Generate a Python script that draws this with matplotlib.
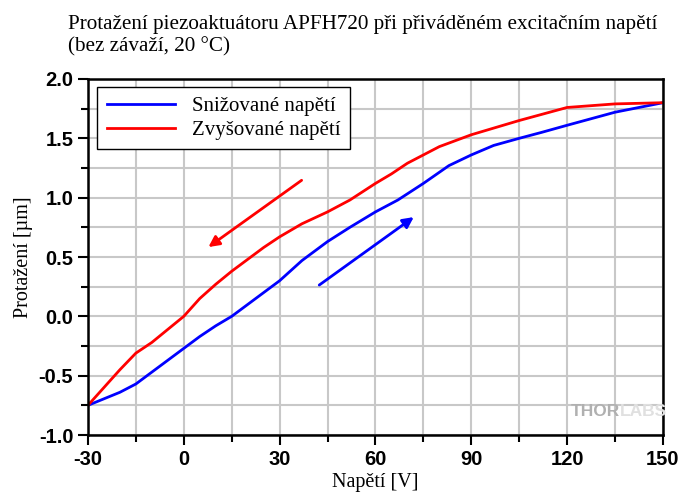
import matplotlib
matplotlib.use("Agg")
import matplotlib.pyplot as plt
from matplotlib.ticker import MultipleLocator

plt.rcParams["axes.unicode_minus"] = False

# snizovane napeti (blue)
v_down = [-30, -20, -15, -10, -5, 0, 5, 10, 15, 20, 25, 30, 37, 45, 52, 60, 67, 75, 83, 90, 97, 105, 112, 120, 135, 150]
s_down = [-0.75, -0.64, -0.57, -0.47, -0.37, -0.27, -0.17, -0.08, 0.0, 0.1, 0.2, 0.3, 0.47, 0.63, 0.75, 0.88, 0.98, 1.12, 1.27, 1.36, 1.44, 1.5, 1.55, 1.61, 1.72, 1.8]

# zvysovane napeti (red)
v_up = [-30, -25, -20, -15, -10, -5, 0, 5, 10, 15, 20, 25, 30, 37, 45, 52, 60, 65, 70, 75, 80, 90, 105, 120, 135, 150]
s_up = [-0.75, -0.6, -0.45, -0.31, -0.22, -0.11, 0.0, 0.15, 0.27, 0.38, 0.48, 0.58, 0.67, 0.78, 0.88, 0.98, 1.12, 1.2, 1.29, 1.36, 1.43, 1.53, 1.65, 1.76, 1.79, 1.8]

# arrows (tail -> head)
arrow_red = ((37.6, 1.16), (7.0, 0.57))
arrow_blue = ((41.7, 0.25), (72.7, 0.85))

serif = ["Liberation Serif", "DejaVu Serif"]
sans = ["Liberation Sans", "DejaVu Sans"]

fig = plt.figure(figsize=(6.87, 4.93), dpi=100)
ax = fig.add_axes([0.128, 0.1176, 0.837, 0.7222])

ax.plot(v_down, s_down, color="#0000ff", lw=2, label="Snižované napětí")
ax.plot(v_up, s_up, color="#ff0000", lw=2, label="Zvyšované napětí")

for (tail, head), c in [(arrow_red, "#ff0000"), (arrow_blue, "#0000ff")]:
    ax.annotate("", xy=head, xytext=tail,
                arrowprops=dict(arrowstyle="-|>", color=c, lw=2, mutation_scale=16))

ax.set_xlim(-30, 150)
ax.set_ylim(-1.0, 2.0)
ax.xaxis.set_major_locator(MultipleLocator(30))
ax.xaxis.set_minor_locator(MultipleLocator(15))
ax.yaxis.set_major_locator(MultipleLocator(0.5))
ax.yaxis.set_minor_locator(MultipleLocator(0.25))
ax.yaxis.set_major_formatter(plt.FormatStrFormatter("%.1f"))
ax.grid(True, which="both", color="#c8c8c8", lw=1.5)
ax.set_axisbelow(True)

for s in ax.spines.values():
    s.set_linewidth(1.8)
ax.tick_params(which="major", direction="out", length=7, width=1.5)
ax.tick_params(which="minor", direction="out", length=5, width=1.5)
for lab in ax.get_xticklabels() + ax.get_yticklabels():
    lab.set_family(sans)
    lab.set_fontweight("bold")
    lab.set_fontsize(14.5)

ax.set_xlabel("Napětí [V]", family=serif, fontsize=14.5, labelpad=3)
ax.set_ylabel("Protažení [µm]", family=serif, fontsize=14.5, labelpad=4)

leg = ax.legend(loc="upper left", bbox_to_anchor=(0.016, 0.977), borderaxespad=0,
                prop={"family": serif, "size": 15}, fancybox=False, edgecolor="black",
                framealpha=1, handlelength=3.3, borderpad=0.45, labelspacing=0.2,
                handletextpad=0.8)
leg.get_frame().set_linewidth(1)

fig.text(0.099, 0.97, "Protažení piezoaktuátoru APFH720 při přiváděném excitačním napětí\n(bez závaží, 20 °C)",
         family=serif, fontsize=15.2, va="top", ha="left", linespacing=1.25)

ax.text(0.925, 0.065, "THOR", transform=ax.transAxes, ha="right", va="center",
        family=sans, fontweight="bold", fontsize=12.5, color="#b0b0b0")
ax.text(0.925, 0.065, "LABS", transform=ax.transAxes, ha="left", va="center",
        family=sans, fontweight="bold", fontsize=12.5, color="#e0e0e0")

fig.savefig("out.png", dpi=100)
